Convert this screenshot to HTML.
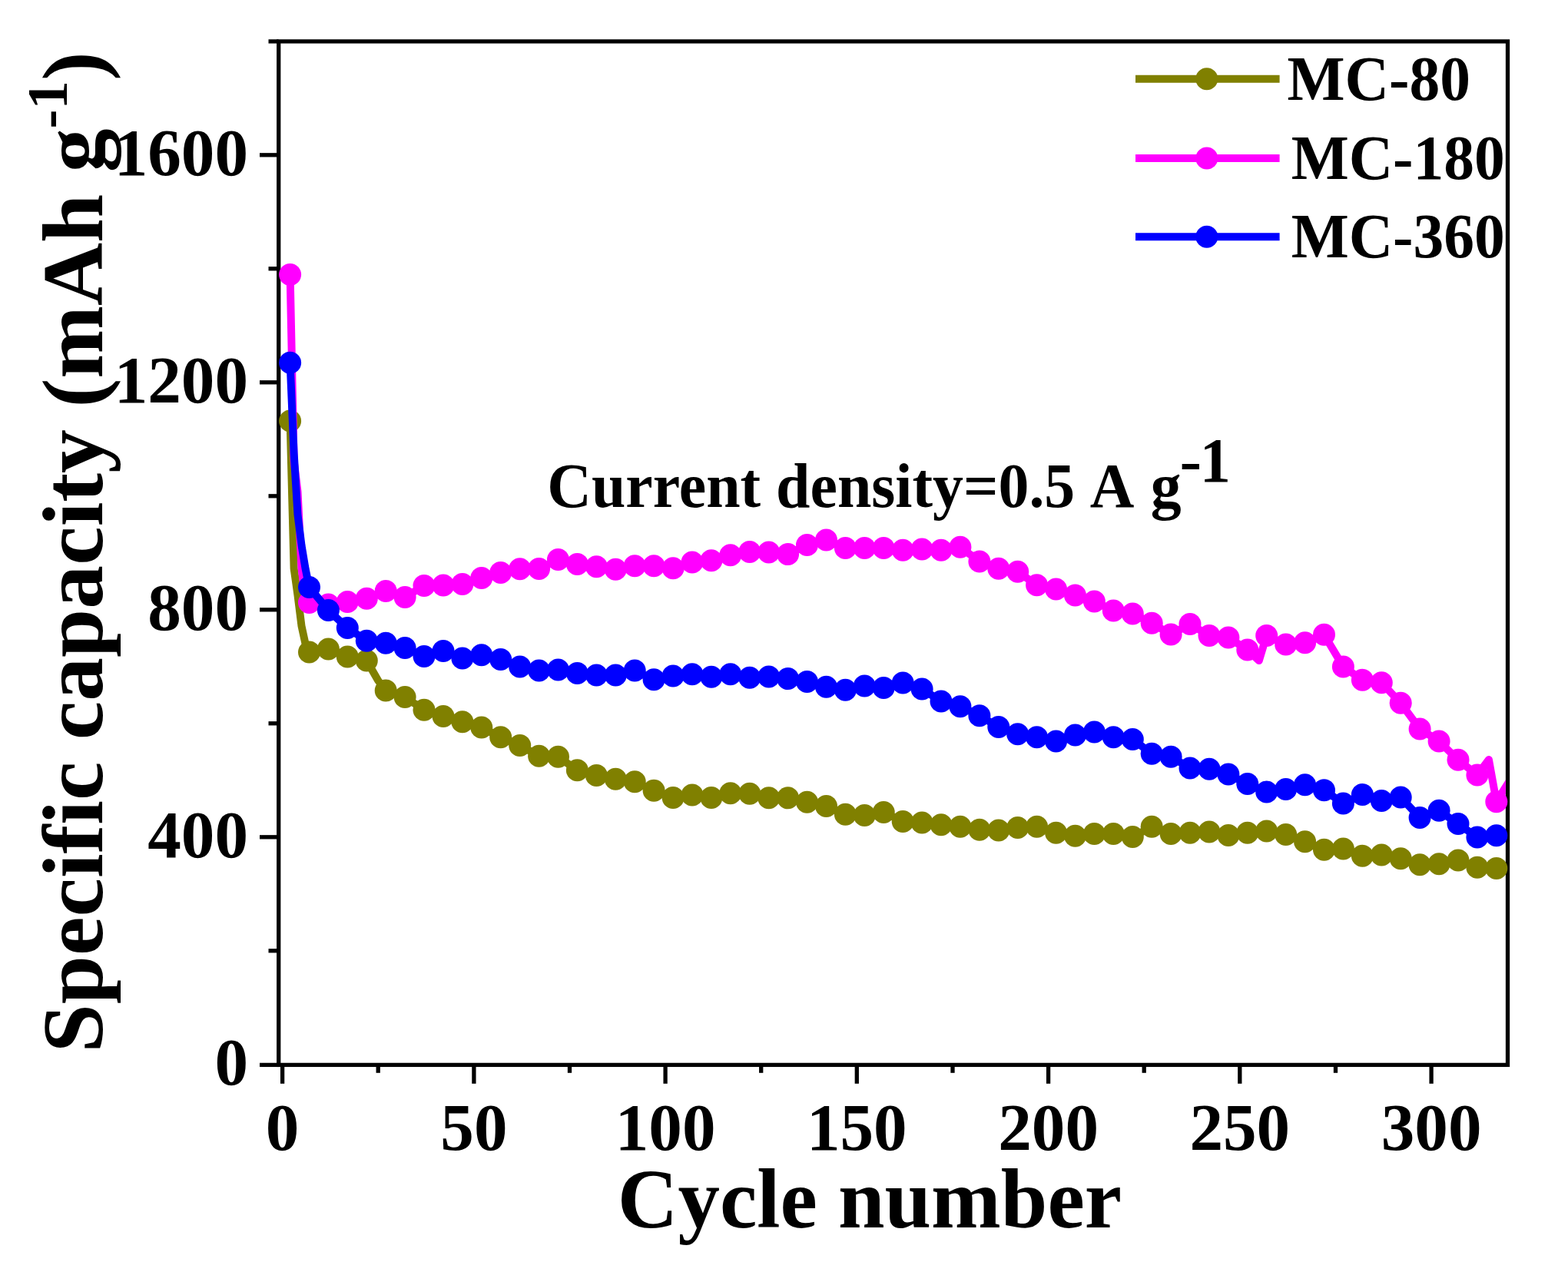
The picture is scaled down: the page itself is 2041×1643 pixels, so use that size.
<!DOCTYPE html>
<html><head><meta charset="utf-8"><title>Specific capacity vs cycle number</title>
<style>
html,body{margin:0;padding:0;background:#fff;}
svg{display:block;}
text{font-family:"Liberation Serif","Times New Roman",serif;font-weight:bold;fill:#000;}
</style></head>
<body>
<svg width="2041" height="1643" viewBox="0 0 2041 1643">
<defs><clipPath id="pc"><rect x="365.3" y="56.5" width="1594.6" height="1327.3"/></clipPath></defs>
<rect width="2041" height="1643" fill="#fff"/>
<rect x="362.7" y="53.9" width="1599.8" height="1332.5" fill="none" stroke="#000" stroke-width="5.3"/>
<g stroke="#000" stroke-width="5.3"><line x1="338" y1="1386.4" x2="362.7" y2="1386.4"/><line x1="349.5" y1="1237.8" x2="362.7" y2="1237.8"/><line x1="338" y1="1089.8" x2="362.7" y2="1089.8"/><line x1="349.5" y1="941.8" x2="362.7" y2="941.8"/><line x1="338" y1="793.8" x2="362.7" y2="793.8"/><line x1="349.5" y1="645.8" x2="362.7" y2="645.8"/><line x1="338" y1="497.8" x2="362.7" y2="497.8"/><line x1="349.5" y1="349.8" x2="362.7" y2="349.8"/><line x1="338" y1="201.8" x2="362.7" y2="201.8"/><line x1="349.5" y1="53.9" x2="362.7" y2="53.9"/><line x1="367.6" y1="1386.4" x2="367.6" y2="1410.8"/><line x1="492.2" y1="1386.4" x2="492.2" y2="1396.8"/><line x1="616.9" y1="1386.4" x2="616.9" y2="1410.8"/><line x1="741.5" y1="1386.4" x2="741.5" y2="1396.8"/><line x1="866.1" y1="1386.4" x2="866.1" y2="1410.8"/><line x1="990.7" y1="1386.4" x2="990.7" y2="1396.8"/><line x1="1115.3" y1="1386.4" x2="1115.3" y2="1410.8"/><line x1="1240.0" y1="1386.4" x2="1240.0" y2="1396.8"/><line x1="1364.6" y1="1386.4" x2="1364.6" y2="1410.8"/><line x1="1489.2" y1="1386.4" x2="1489.2" y2="1396.8"/><line x1="1613.8" y1="1386.4" x2="1613.8" y2="1410.8"/><line x1="1738.5" y1="1386.4" x2="1738.5" y2="1396.8"/><line x1="1863.1" y1="1386.4" x2="1863.1" y2="1410.8"/></g>
<g clip-path="url(#pc)"><polyline points="377.6,548.1 382.6,740.0 387.5,775.0 392.5,815.0 397.5,838.0 402.5,849.0 427.4,845.0 452.3,855.0 477.3,860.0 492.2,886.0 502.2,899.0 527.1,907.6 552.0,924.2 577.0,932.5 601.9,939.7 626.8,947.0 651.7,959.7 676.7,970.5 701.6,984.2 726.5,985.3 751.4,1002.7 776.4,1009.6 801.3,1014.2 826.2,1017.7 851.1,1029.3 876.1,1038.5 901.0,1035.0 925.9,1038.5 950.8,1032.7 975.8,1033.2 1000.7,1038.8 1025.6,1038.8 1050.5,1044.2 1075.5,1049.6 1100.4,1060.3 1125.3,1061.6 1150.2,1057.6 1175.2,1069.6 1200.1,1071.0 1225.0,1073.7 1249.9,1076.3 1274.9,1080.3 1299.8,1081.0 1324.7,1077.6 1349.6,1076.3 1374.6,1084.3 1399.5,1088.3 1424.4,1085.6 1449.3,1085.6 1474.3,1089.6 1499.2,1076.3 1524.1,1085.6 1549.0,1084.3 1574.0,1082.9 1598.9,1087.5 1623.8,1084.2 1648.7,1081.9 1673.7,1086.5 1698.6,1095.7 1723.5,1106.2 1748.4,1105.0 1773.4,1114.3 1798.3,1113.1 1823.2,1117.7 1848.1,1125.8 1873.1,1124.7 1898.0,1120.0 1922.9,1129.3 1947.8,1130.5 1965.3,1130.5" fill="none" stroke="#808000" stroke-width="10" stroke-linejoin="round" stroke-linecap="round"/></g><g fill="#808000"><circle cx="377.6" cy="548.1" r="14.5"/><circle cx="402.5" cy="849.0" r="14.5"/><circle cx="427.4" cy="845.0" r="14.5"/><circle cx="452.3" cy="855.0" r="14.5"/><circle cx="477.3" cy="860.0" r="14.5"/><circle cx="502.2" cy="899.0" r="14.5"/><circle cx="527.1" cy="907.6" r="14.5"/><circle cx="552.0" cy="924.2" r="14.5"/><circle cx="577.0" cy="932.5" r="14.5"/><circle cx="601.9" cy="939.7" r="14.5"/><circle cx="626.8" cy="947.0" r="14.5"/><circle cx="651.7" cy="959.7" r="14.5"/><circle cx="676.7" cy="970.5" r="14.5"/><circle cx="701.6" cy="984.2" r="14.5"/><circle cx="726.5" cy="985.3" r="14.5"/><circle cx="751.4" cy="1002.7" r="14.5"/><circle cx="776.4" cy="1009.6" r="14.5"/><circle cx="801.3" cy="1014.2" r="14.5"/><circle cx="826.2" cy="1017.7" r="14.5"/><circle cx="851.1" cy="1029.3" r="14.5"/><circle cx="876.1" cy="1038.5" r="14.5"/><circle cx="901.0" cy="1035.0" r="14.5"/><circle cx="925.9" cy="1038.5" r="14.5"/><circle cx="950.8" cy="1032.7" r="14.5"/><circle cx="975.8" cy="1033.2" r="14.5"/><circle cx="1000.7" cy="1038.8" r="14.5"/><circle cx="1025.6" cy="1038.8" r="14.5"/><circle cx="1050.5" cy="1044.2" r="14.5"/><circle cx="1075.5" cy="1049.6" r="14.5"/><circle cx="1100.4" cy="1060.3" r="14.5"/><circle cx="1125.3" cy="1061.6" r="14.5"/><circle cx="1150.2" cy="1057.6" r="14.5"/><circle cx="1175.2" cy="1069.6" r="14.5"/><circle cx="1200.1" cy="1071.0" r="14.5"/><circle cx="1225.0" cy="1073.7" r="14.5"/><circle cx="1249.9" cy="1076.3" r="14.5"/><circle cx="1274.9" cy="1080.3" r="14.5"/><circle cx="1299.8" cy="1081.0" r="14.5"/><circle cx="1324.7" cy="1077.6" r="14.5"/><circle cx="1349.6" cy="1076.3" r="14.5"/><circle cx="1374.6" cy="1084.3" r="14.5"/><circle cx="1399.5" cy="1088.3" r="14.5"/><circle cx="1424.4" cy="1085.6" r="14.5"/><circle cx="1449.3" cy="1085.6" r="14.5"/><circle cx="1474.3" cy="1089.6" r="14.5"/><circle cx="1499.2" cy="1076.3" r="14.5"/><circle cx="1524.1" cy="1085.6" r="14.5"/><circle cx="1549.0" cy="1084.3" r="14.5"/><circle cx="1574.0" cy="1082.9" r="14.5"/><circle cx="1598.9" cy="1087.5" r="14.5"/><circle cx="1623.8" cy="1084.2" r="14.5"/><circle cx="1648.7" cy="1081.9" r="14.5"/><circle cx="1673.7" cy="1086.5" r="14.5"/><circle cx="1698.6" cy="1095.7" r="14.5"/><circle cx="1723.5" cy="1106.2" r="14.5"/><circle cx="1748.4" cy="1105.0" r="14.5"/><circle cx="1773.4" cy="1114.3" r="14.5"/><circle cx="1798.3" cy="1113.1" r="14.5"/><circle cx="1823.2" cy="1117.7" r="14.5"/><circle cx="1848.1" cy="1125.8" r="14.5"/><circle cx="1873.1" cy="1124.7" r="14.5"/><circle cx="1898.0" cy="1120.0" r="14.5"/><circle cx="1922.9" cy="1129.3" r="14.5"/><circle cx="1947.8" cy="1130.5" r="14.5"/></g>
<g clip-path="url(#pc)"><polyline points="377.6,357.5 382.6,600.0 387.5,640.0 392.5,740.0 397.5,780.0 402.5,784.5 427.4,787.0 452.3,783.5 477.3,779.3 502.2,769.5 527.1,777.5 552.0,762.5 577.0,762.0 601.9,760.5 626.8,752.4 651.7,745.5 676.7,740.8 701.6,740.6 726.5,728.6 751.4,734.4 776.4,737.8 801.3,741.3 826.2,736.7 851.1,736.7 876.1,739.7 901.0,732.0 925.9,729.7 950.8,722.8 975.8,718.5 1000.7,718.9 1025.6,721.6 1050.5,709.5 1075.5,703.0 1100.4,713.5 1125.3,713.5 1150.2,713.5 1175.2,716.2 1200.1,714.9 1225.0,716.2 1249.9,712.2 1274.9,731.0 1299.8,740.3 1324.7,744.3 1349.6,761.7 1374.6,767.0 1399.5,775.0 1424.4,783.1 1449.3,795.1 1474.3,799.1 1499.2,811.2 1524.1,825.9 1549.0,812.5 1574.0,827.5 1598.9,830.0 1623.8,846.0 1638.8,860.0 1648.7,827.4 1673.7,839.0 1698.6,836.7 1723.5,826.3 1748.4,867.9 1773.4,885.3 1798.3,888.7 1823.2,915.3 1848.1,948.9 1873.1,965.0 1898.0,989.3 1922.9,1009.0 1937.9,989.0 1947.8,1043.7 1965.3,1016.0" fill="none" stroke="#FF00FF" stroke-width="10" stroke-linejoin="round" stroke-linecap="round"/></g><g fill="#FF00FF"><circle cx="377.6" cy="357.5" r="14.5"/><circle cx="402.5" cy="784.5" r="14.5"/><circle cx="427.4" cy="787.0" r="14.5"/><circle cx="452.3" cy="783.5" r="14.5"/><circle cx="477.3" cy="779.3" r="14.5"/><circle cx="502.2" cy="769.5" r="14.5"/><circle cx="527.1" cy="777.5" r="14.5"/><circle cx="552.0" cy="762.5" r="14.5"/><circle cx="577.0" cy="762.0" r="14.5"/><circle cx="601.9" cy="760.5" r="14.5"/><circle cx="626.8" cy="752.4" r="14.5"/><circle cx="651.7" cy="745.5" r="14.5"/><circle cx="676.7" cy="740.8" r="14.5"/><circle cx="701.6" cy="740.6" r="14.5"/><circle cx="726.5" cy="728.6" r="14.5"/><circle cx="751.4" cy="734.4" r="14.5"/><circle cx="776.4" cy="737.8" r="14.5"/><circle cx="801.3" cy="741.3" r="14.5"/><circle cx="826.2" cy="736.7" r="14.5"/><circle cx="851.1" cy="736.7" r="14.5"/><circle cx="876.1" cy="739.7" r="14.5"/><circle cx="901.0" cy="732.0" r="14.5"/><circle cx="925.9" cy="729.7" r="14.5"/><circle cx="950.8" cy="722.8" r="14.5"/><circle cx="975.8" cy="718.5" r="14.5"/><circle cx="1000.7" cy="718.9" r="14.5"/><circle cx="1025.6" cy="721.6" r="14.5"/><circle cx="1050.5" cy="709.5" r="14.5"/><circle cx="1075.5" cy="703.0" r="14.5"/><circle cx="1100.4" cy="713.5" r="14.5"/><circle cx="1125.3" cy="713.5" r="14.5"/><circle cx="1150.2" cy="713.5" r="14.5"/><circle cx="1175.2" cy="716.2" r="14.5"/><circle cx="1200.1" cy="714.9" r="14.5"/><circle cx="1225.0" cy="716.2" r="14.5"/><circle cx="1249.9" cy="712.2" r="14.5"/><circle cx="1274.9" cy="731.0" r="14.5"/><circle cx="1299.8" cy="740.3" r="14.5"/><circle cx="1324.7" cy="744.3" r="14.5"/><circle cx="1349.6" cy="761.7" r="14.5"/><circle cx="1374.6" cy="767.0" r="14.5"/><circle cx="1399.5" cy="775.0" r="14.5"/><circle cx="1424.4" cy="783.1" r="14.5"/><circle cx="1449.3" cy="795.1" r="14.5"/><circle cx="1474.3" cy="799.1" r="14.5"/><circle cx="1499.2" cy="811.2" r="14.5"/><circle cx="1524.1" cy="825.9" r="14.5"/><circle cx="1549.0" cy="812.5" r="14.5"/><circle cx="1574.0" cy="827.5" r="14.5"/><circle cx="1598.9" cy="830.0" r="14.5"/><circle cx="1623.8" cy="846.0" r="14.5"/><circle cx="1648.7" cy="827.4" r="14.5"/><circle cx="1673.7" cy="839.0" r="14.5"/><circle cx="1698.6" cy="836.7" r="14.5"/><circle cx="1723.5" cy="826.3" r="14.5"/><circle cx="1748.4" cy="867.9" r="14.5"/><circle cx="1773.4" cy="885.3" r="14.5"/><circle cx="1798.3" cy="888.7" r="14.5"/><circle cx="1823.2" cy="915.3" r="14.5"/><circle cx="1848.1" cy="948.9" r="14.5"/><circle cx="1873.1" cy="965.0" r="14.5"/><circle cx="1898.0" cy="989.3" r="14.5"/><circle cx="1922.9" cy="1009.0" r="14.5"/><circle cx="1947.8" cy="1043.7" r="14.5"/></g>
<g clip-path="url(#pc)"><polyline points="377.6,472.3 382.6,590.0 387.5,670.0 392.5,710.0 397.5,740.0 402.5,764.5 427.4,794.5 452.3,817.6 477.3,834.2 502.2,837.3 527.1,843.5 552.0,854.5 577.0,847.6 601.9,857.0 626.8,852.8 651.7,858.5 676.7,868.0 701.6,873.1 726.5,872.0 751.4,876.6 776.4,878.9 801.3,878.9 826.2,873.1 851.1,884.7 876.1,880.0 901.0,877.8 925.9,881.2 950.8,877.8 975.8,882.3 1000.7,880.9 1025.6,883.6 1050.5,887.6 1075.5,894.3 1100.4,898.3 1125.3,892.9 1150.2,895.6 1175.2,888.9 1200.1,897.0 1225.0,913.0 1249.9,919.7 1274.9,931.8 1299.8,946.5 1324.7,955.8 1349.6,959.8 1374.6,965.1 1399.5,957.1 1424.4,953.1 1449.3,959.8 1474.3,962.5 1499.2,981.2 1524.1,985.2 1549.0,999.9 1574.0,1001.3 1598.9,1008.0 1623.8,1020.6 1648.7,1031.0 1673.7,1027.5 1698.6,1021.7 1723.5,1028.7 1748.4,1046.0 1773.4,1034.5 1798.3,1042.5 1823.2,1037.9 1848.1,1064.5 1873.1,1055.3 1898.0,1072.6 1922.9,1090.0 1947.8,1087.7 1965.3,1090.0" fill="none" stroke="#0000FF" stroke-width="10" stroke-linejoin="round" stroke-linecap="round"/></g><g fill="#0000FF"><circle cx="377.6" cy="472.3" r="14.5"/><circle cx="402.5" cy="764.5" r="14.5"/><circle cx="427.4" cy="794.5" r="14.5"/><circle cx="452.3" cy="817.6" r="14.5"/><circle cx="477.3" cy="834.2" r="14.5"/><circle cx="502.2" cy="837.3" r="14.5"/><circle cx="527.1" cy="843.5" r="14.5"/><circle cx="552.0" cy="854.5" r="14.5"/><circle cx="577.0" cy="847.6" r="14.5"/><circle cx="601.9" cy="857.0" r="14.5"/><circle cx="626.8" cy="852.8" r="14.5"/><circle cx="651.7" cy="858.5" r="14.5"/><circle cx="676.7" cy="868.0" r="14.5"/><circle cx="701.6" cy="873.1" r="14.5"/><circle cx="726.5" cy="872.0" r="14.5"/><circle cx="751.4" cy="876.6" r="14.5"/><circle cx="776.4" cy="878.9" r="14.5"/><circle cx="801.3" cy="878.9" r="14.5"/><circle cx="826.2" cy="873.1" r="14.5"/><circle cx="851.1" cy="884.7" r="14.5"/><circle cx="876.1" cy="880.0" r="14.5"/><circle cx="901.0" cy="877.8" r="14.5"/><circle cx="925.9" cy="881.2" r="14.5"/><circle cx="950.8" cy="877.8" r="14.5"/><circle cx="975.8" cy="882.3" r="14.5"/><circle cx="1000.7" cy="880.9" r="14.5"/><circle cx="1025.6" cy="883.6" r="14.5"/><circle cx="1050.5" cy="887.6" r="14.5"/><circle cx="1075.5" cy="894.3" r="14.5"/><circle cx="1100.4" cy="898.3" r="14.5"/><circle cx="1125.3" cy="892.9" r="14.5"/><circle cx="1150.2" cy="895.6" r="14.5"/><circle cx="1175.2" cy="888.9" r="14.5"/><circle cx="1200.1" cy="897.0" r="14.5"/><circle cx="1225.0" cy="913.0" r="14.5"/><circle cx="1249.9" cy="919.7" r="14.5"/><circle cx="1274.9" cy="931.8" r="14.5"/><circle cx="1299.8" cy="946.5" r="14.5"/><circle cx="1324.7" cy="955.8" r="14.5"/><circle cx="1349.6" cy="959.8" r="14.5"/><circle cx="1374.6" cy="965.1" r="14.5"/><circle cx="1399.5" cy="957.1" r="14.5"/><circle cx="1424.4" cy="953.1" r="14.5"/><circle cx="1449.3" cy="959.8" r="14.5"/><circle cx="1474.3" cy="962.5" r="14.5"/><circle cx="1499.2" cy="981.2" r="14.5"/><circle cx="1524.1" cy="985.2" r="14.5"/><circle cx="1549.0" cy="999.9" r="14.5"/><circle cx="1574.0" cy="1001.3" r="14.5"/><circle cx="1598.9" cy="1008.0" r="14.5"/><circle cx="1623.8" cy="1020.6" r="14.5"/><circle cx="1648.7" cy="1031.0" r="14.5"/><circle cx="1673.7" cy="1027.5" r="14.5"/><circle cx="1698.6" cy="1021.7" r="14.5"/><circle cx="1723.5" cy="1028.7" r="14.5"/><circle cx="1748.4" cy="1046.0" r="14.5"/><circle cx="1773.4" cy="1034.5" r="14.5"/><circle cx="1798.3" cy="1042.5" r="14.5"/><circle cx="1823.2" cy="1037.9" r="14.5"/><circle cx="1848.1" cy="1064.5" r="14.5"/><circle cx="1873.1" cy="1055.3" r="14.5"/><circle cx="1898.0" cy="1072.6" r="14.5"/><circle cx="1922.9" cy="1090.0" r="14.5"/><circle cx="1947.8" cy="1087.7" r="14.5"/></g>
<g font-size="87.2"><text x="323" y="1412.4" text-anchor="end">0</text><text x="323" y="1115.8" text-anchor="end">400</text><text x="323" y="819.8" text-anchor="end">800</text><text x="323" y="523.8" text-anchor="end">1200</text><text x="323" y="227.8" text-anchor="end">1600</text><text x="367.6" y="1496.8" text-anchor="middle">0</text><text x="616.9" y="1496.8" text-anchor="middle">50</text><text x="866.1" y="1496.8" text-anchor="middle">100</text><text x="1115.3" y="1496.8" text-anchor="middle">150</text><text x="1364.6" y="1496.8" text-anchor="middle">200</text><text x="1613.8" y="1496.8" text-anchor="middle">250</text><text x="1863.1" y="1496.8" text-anchor="middle">300</text></g>
<line x1="1478" y1="102.8" x2="1665.6" y2="102.8" stroke="#808000" stroke-width="10"/><circle cx="1570.8" cy="102.8" r="14.5" fill="#808000"/><text transform="translate(1675.5411181640625,129.8) scale(0.958,1)" font-size="83">MC-80</text><line x1="1478" y1="206.0" x2="1665.6" y2="206.0" stroke="#FF00FF" stroke-width="10"/><circle cx="1570.8" cy="206.0" r="14.5" fill="#FF00FF"/><text transform="translate(1680.6411181640624,232.5) scale(0.958,1)" font-size="83">MC-180</text><line x1="1478" y1="308.2" x2="1665.6" y2="308.2" stroke="#0000FF" stroke-width="10"/><circle cx="1570.8" cy="308.2" r="14.5" fill="#0000FF"/><text transform="translate(1680.6411181640624,335.3) scale(0.958,1)" font-size="83">MC-360</text>
<g font-size="82"><text transform="translate(712.3,659.8) scale(0.9735,1)">Current density=0.5</text><text transform="translate(1418.7,659.8) scale(0.9735,1)">A</text><text transform="translate(1497.8,659.8) scale(0.9735,1)">g</text><text transform="translate(1535.4,627.4) scale(1.05,1)">-</text><text transform="translate(1561.7,627.4) scale(0.98,1)">1</text></g>
<text transform="translate(803.8,1598) scale(0.99,1)" font-size="110">Cycle number</text>
<text transform="translate(132.5,1370.5) rotate(-90) scale(1.0062,1)" font-size="113">Specific capacity (mAh g<tspan font-size="74.5" dy="-46">-1</tspan><tspan dy="46">)</tspan></text>
</svg>
</body></html>
